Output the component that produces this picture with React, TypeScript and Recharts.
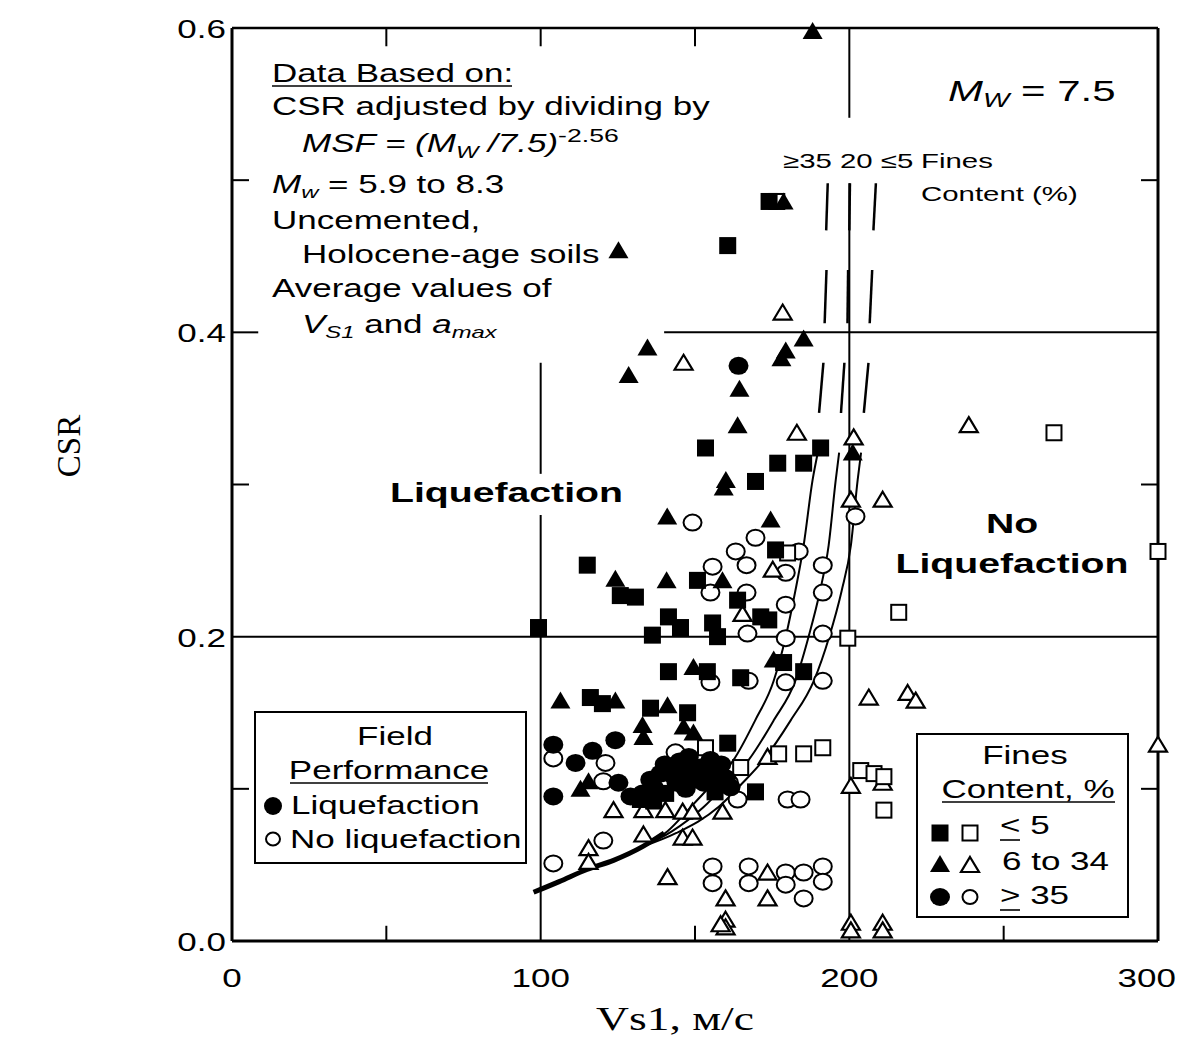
import React from "react";
import { ComposedChart, XAxis, YAxis, Scatter, Line, ReferenceLine } from "recharts";

// Vs1 (m/s), CSR pairs
const liqSquares = [
  [174, 0.486], [160.6, 0.457], [153.4, 0.324], [176.8, 0.314], [185.2, 0.314], [190.7, 0.324],
  [169.6, 0.302], [176.1, 0.257], [115.1, 0.247], [125.8, 0.227], [130.7, 0.226], [150.8, 0.237],
  [163.8, 0.224], [171.3, 0.213], [173.9, 0.211], [141.4, 0.213], [145.3, 0.206], [136.2, 0.201],
  [155.7, 0.209], [157.3, 0.2], [99.3, 0.206], [141.4, 0.177], [154, 0.177], [164.8, 0.173],
  [178.7, 0.183], [185.2, 0.177], [116.1, 0.16], [120, 0.156], [135.6, 0.153], [147.6, 0.15],
  [160.6, 0.13], [169.6, 0.098], [132.3, 0.093], [136.6, 0.092], [140.5, 0.097], [156.5, 0.098],
];
const noLiqSquares = [
  [176.5, 0.486], [180, 0.255], [199.5, 0.199], [216, 0.216], [266.3, 0.334], [300, 0.256],
  [153.4, 0.127], [164.8, 0.114], [177.1, 0.123], [185.2, 0.123], [191.4, 0.127], [203.7, 0.112],
  [208, 0.11], [211.2, 0.108], [211.2, 0.086],
];
const liqTriangles = [
  [188.1, 0.598], [178.7, 0.486], [125.2, 0.454], [185.2, 0.396], [134.6, 0.39], [128.5, 0.372],
  [164.4, 0.363], [179.4, 0.388], [178, 0.383], [163.8, 0.339], [201.1, 0.321], [159.3, 0.298],
  [160, 0.303], [141, 0.279], [174.5, 0.277], [124.2, 0.238], [140.8, 0.237], [158.9, 0.237],
  [149.5, 0.18], [175.5, 0.185], [106.4, 0.158], [124.2, 0.158], [141.1, 0.155], [133, 0.142],
  [133.3, 0.134], [146.3, 0.141], [149.5, 0.137], [112.9, 0.1], [115.5, 0.105],
];
const noLiqTriangles = [
  [178.4, 0.413], [146.3, 0.38], [183, 0.334], [201.4, 0.331], [200.5, 0.29], [210.8, 0.29],
  [175.2, 0.244], [165.4, 0.215], [238.7, 0.339], [206.3, 0.16], [218.9, 0.163], [221.5, 0.158],
  [200.5, 0.102], [210.8, 0.104], [300, 0.129], [200.5, 0.012], [200.5, 0.007], [210.8, 0.012],
  [210.8, 0.007], [173.5, 0.121], [158.9, 0.085], [123.6, 0.086], [133.3, 0.086], [140.4, 0.086],
  [146, 0.085], [149.2, 0.085], [133.3, 0.07], [146, 0.068], [149.2, 0.068], [115.5, 0.061],
  [115.5, 0.052], [141.1, 0.042], [173.5, 0.045], [159.9, 0.028], [173.5, 0.028], [159.9, 0.014],
  [159.9, 0.009], [158.3, 0.011],
];
const liqCircles = [
  [164.1, 0.378], [104.1, 0.129], [124.2, 0.132], [116.8, 0.125], [111.3, 0.117], [104.1, 0.095],
  [125.2, 0.104], [129.1, 0.095], [136.6, 0.101], [142, 0.11], [150.8, 0.112], [152.8, 0.104],
  [151.8, 0.114], [157.3, 0.11], [138.8, 0.11], [149.5, 0.106], [145, 0.118], [155, 0.119],
  [160, 0.107], [133, 0.097], [147.2, 0.113], [153.8, 0.11], [158.5, 0.116], [144, 0.104],
  [156.2, 0.103], [148, 0.121], [135.5, 0.106], [140.2, 0.116], [161.5, 0.101], [147, 0.1],
];
const noLiqCircles = [
  [202, 0.279], [149.2, 0.275], [169.6, 0.265], [163.2, 0.256], [183.6, 0.256], [166.7, 0.247],
  [155.7, 0.246], [179.4, 0.242], [191.4, 0.247], [155, 0.229], [166.7, 0.229], [191.4, 0.229],
  [179.4, 0.221], [167, 0.202], [179.4, 0.199], [191.4, 0.202], [155, 0.17], [167.4, 0.171],
  [179.4, 0.17], [191.4, 0.171], [104.1, 0.12], [121, 0.117], [143.7, 0.124], [120.3, 0.105],
  [161, 0.104], [163.8, 0.093], [180, 0.093], [184.2, 0.093], [120.3, 0.066], [104.1, 0.051],
  [155.7, 0.049], [155.7, 0.038], [167.4, 0.049], [167.4, 0.038], [179.4, 0.045], [179.4, 0.037],
  [185.2, 0.045], [191.4, 0.049], [191.4, 0.039], [185.2, 0.028],
];

// boundary curves (fines content >=35, 20, <=5)
const curveMerged = [[97.7, 0.032], [106, 0.039], [115, 0.047], [123.6, 0.053], [133, 0.062], [140, 0.071]];
const curveFC35 = [
  [133, 0.062], [141, 0.072], [148.6, 0.088], [155.5, 0.103], [162.5, 0.119], [169.5, 0.145],
  [175.5, 0.171], [179.4, 0.2], [182.5, 0.23], [185.2, 0.26], [188.1, 0.303], [189.8, 0.321],
];
const curveFC20 = [
  [133, 0.062], [142.5, 0.072], [152.8, 0.088], [160, 0.103], [167.4, 0.119], [175.5, 0.145],
  [182.5, 0.171], [186.8, 0.2], [190.5, 0.23], [193.3, 0.26], [195.6, 0.303], [196.7, 0.321],
];
const curveFC5 = [
  [133, 0.062], [144, 0.071], [157.6, 0.088], [165, 0.103], [172.2, 0.119], [181, 0.145],
  [188.5, 0.171], [193.5, 0.2], [197.5, 0.23], [200.5, 0.26], [202.7, 0.303], [203.8, 0.321],
];
const curveDashes = [
  [[193.0, 0.498], [192.5, 0.467]], [[200.2, 0.498], [200.0, 0.467]], [[208.6, 0.498], [207.8, 0.467]],
  [[192.6, 0.441], [192.0, 0.406]], [[199.6, 0.441], [199.4, 0.406]], [[207.4, 0.441], [206.6, 0.406]],
  [[191.6, 0.38], [190.2, 0.347]], [[198.4, 0.38], [197.3, 0.347]], [[206.2, 0.38], [204.7, 0.347]],
];

const xTicks = [0, 100, 200, 300];
const yTicks = [0, 0.2, 0.4, 0.6];

const SANS = "'Liberation Sans', Arial, Helvetica, sans-serif";
const SERIF = "'Liberation Serif', 'Times New Roman', serif";

const toPts = (a: number[][]) => a.map(([x, y]) => ({ x, y }));

function Marker({ cx, cy, kind, filled }: { cx: number; cy: number; kind: string; filled: boolean }) {
  if (kind === "square") {
    return filled ? (
      <rect x={cx - 8.5} y={cy - 8.5} width={17} height={17} fill="#000" />
    ) : (
      <rect x={cx - 7.5} y={cy - 7.5} width={15} height={15} fill="#fff" stroke="#000" strokeWidth={2} />
    );
  }
  if (kind === "triangle") {
    return filled ? (
      <polygon points={`${cx},${cy - 9} ${cx + 10},${cy + 8} ${cx - 10},${cy + 8}`} fill="#000" />
    ) : (
      <polygon
        points={`${cx},${cy - 8} ${cx + 9},${cy + 7} ${cx - 9},${cy + 7}`}
        fill="#fff"
        stroke="#000"
        strokeWidth={2.2}
      />
    );
  }
  return filled ? (
    <ellipse cx={cx} cy={cy} rx={10} ry={9} fill="#000" />
  ) : (
    <ellipse cx={cx} cy={cy} rx={9} ry={8} fill="#fff" stroke="#000" strokeWidth={2} />
  );
}

function T({ x, y, size = 25, weight, anchor = "start", sx = 1.4, family = SANS, children }: any) {
  return (
    <g transform={`translate(${x},${y}) scale(${sx},1)`}>
      <text x={0} y={0} fontSize={size} fontWeight={weight} textAnchor={anchor} fontFamily={family} fill="#000">
        {children}
      </text>
    </g>
  );
}

const YTick = (props: any) => (
  <g transform={`translate(226,${props.y + 10}) scale(1.4,1)`}>
    <text textAnchor="end" fontSize={25} fontFamily={SANS} fill="#000">
      {Number(props.payload.value).toFixed(1)}
    </text>
  </g>
);

const XTick = (props: any) => {
  const last = props.payload.value === 300;
  return (
    <g transform={`translate(${last ? 1176 : props.x},987) scale(1.4,1)`}>
      <text textAnchor={last ? "end" : "middle"} fontSize={25} fontFamily={SANS} fill="#000">
        {props.payload.value}
      </text>
    </g>
  );
};

const seg = (x1: number, y1: number, x2: number, y2: number, w = 2, key?: string) => (
  <ReferenceLine
    key={key}
    segment={[{ x: x1, y: y1 }, { x: x2, y: y2 }]}
    stroke="#000"
    strokeWidth={w}
    ifOverflow="visible"
  />
);

export default function App() {
  const series = [
    { data: noLiqCircles, kind: "circle", filled: false },
    { data: noLiqTriangles, kind: "triangle", filled: false },
    { data: noLiqSquares, kind: "square", filled: false },
    { data: liqCircles, kind: "circle", filled: true },
    { data: liqTriangles, kind: "triangle", filled: true },
    { data: liqSquares, kind: "square", filled: true },
  ];

  return (
    <div style={{ position: "absolute", left: 0, top: 0, width: 1177, height: 1041, background: "#fff" }}>
      <ComposedChart width={1177} height={1041} margin={{ top: 28, right: 19, bottom: 0, left: 0 }}>
        <XAxis
          type="number"
          dataKey="x"
          domain={[0, 300]}
          ticks={xTicks}
          height={100}
          tickLine={false}
          axisLine={{ stroke: "#000", strokeWidth: 3 }}
          tick={<XTick />}
        />
        <YAxis
          type="number"
          dataKey="y"
          domain={[0, 0.6]}
          ticks={yTicks}
          width={232}
          tickLine={false}
          axisLine={{ stroke: "#000", strokeWidth: 3 }}
          tick={<YTick />}
        />

        {/* frame and grid */}
        {seg(0, 0.6, 300, 0.6, 2.5)}
        {seg(300, 0, 300, 0.6, 3)}
        {seg(0, 0.2, 300, 0.2, 2)}
        {seg(140, 0.4, 300, 0.4, 2)}
        {seg(100, 0, 100, 0.28, 2)}
        {seg(100, 0.307, 100, 0.38, 2)}
        {seg(200, 0, 200, 0.498, 2)}
        {seg(200, 0.541, 200, 0.6, 2)}

        {/* inward ticks */}
        {[0.1, 0.3, 0.5].map((v) => seg(0, v, 5.5, v, 2, `yl${v}`))}
        {seg(0, 0.4, 8.5, 0.4, 2)}
        {[0.1, 0.3, 0.5].map((v) => seg(294.5, v, 300, v, 2, `yr${v}`))}
        {[50, 150, 250].map((v) => seg(v, 0, v, 0.01, 2, `xb${v}`))}
        {[50, 100, 150].map((v) => seg(v, 0.6, v, 0.588, 2, `xt${v}`))}

        {curveDashes.map((d, i) => seg(d[0][0], d[0][1], d[1][0], d[1][1], 2.5, `d${i}`))}

        <Line data={toPts(curveMerged)} dataKey="y" type="monotone" stroke="#000" strokeWidth={5} dot={false} isAnimationActive={false} />
        <Line data={toPts(curveFC35)} dataKey="y" type="monotone" stroke="#000" strokeWidth={2} dot={false} isAnimationActive={false} />
        <Line data={toPts(curveFC20)} dataKey="y" type="monotone" stroke="#000" strokeWidth={2} dot={false} isAnimationActive={false} />
        <Line data={toPts(curveFC5)} dataKey="y" type="monotone" stroke="#000" strokeWidth={2} dot={false} isAnimationActive={false} />

        {series.map((s, i) => (
          <Scatter
            key={i}
            data={toPts(s.data)}
            isAnimationActive={false}
            shape={(p: any) => <Marker cx={p.cx} cy={p.cy} kind={s.kind} filled={s.filled} />}
          />
        ))}
      </ComposedChart>

      <svg width={1177} height={1041} style={{ position: "absolute", left: 0, top: 0, pointerEvents: "none" }}>
        {/* notes block */}
        <T x={272} y={82}>Data Based on:</T>
        <line x1={272} y1={86} x2={512} y2={86} stroke="#000" strokeWidth={1.6} />
        <T x={272} y={115}>CSR adjusted by dividing by</T>
        <T x={302} y={152}>
          <tspan fontStyle="italic">MSF = (M</tspan>
          <tspan fontStyle="italic" fontSize={17} dy={6}>W</tspan>
          <tspan fontStyle="italic" dy={-6}> /7.5)</tspan>
          <tspan fontSize={19} dy={-10}>-2.56</tspan>
        </T>
        <T x={272} y={193}>
          <tspan fontStyle="italic">M</tspan>
          <tspan fontStyle="italic" fontSize={17} dy={5}>w</tspan>
          <tspan dy={-5}> = 5.9 to 8.3</tspan>
        </T>
        <T x={272} y={229}>Uncemented,</T>
        <T x={302} y={263}>Holocene-age soils</T>
        <T x={272} y={297}>Average values of</T>
        <T x={302} y={333}>
          <tspan fontStyle="italic">V</tspan>
          <tspan fontStyle="italic" fontSize={17} dy={5}>S1</tspan>
          <tspan dy={-5}> and </tspan>
          <tspan fontStyle="italic">a</tspan>
          <tspan fontStyle="italic" fontSize={17} dy={5}>max</tspan>
        </T>

        <T x={948} y={101} size={30}>
          <tspan fontStyle="italic">M</tspan>
          <tspan fontStyle="italic" fontSize={20} dy={6}>W</tspan>
          <tspan dy={-6}> = 7.5</tspan>
        </T>

        <T x={783} y={168} size={21}>≥35 20 ≤5</T>
        <T x={921} y={168} size={21}>Fines</T>
        <T x={921} y={201} size={21}>Content (%)</T>

        <T x={390} y={502} size={28} weight="bold">Liquefaction</T>
        <T x={1012} y={533} size={28} weight="bold" anchor="middle">No</T>
        <T x={1012} y={573} size={28} weight="bold" anchor="middle">Liquefaction</T>

        {/* field performance box */}
        <rect x={255} y={712} width={271} height={151} fill="#fff" stroke="#000" strokeWidth={2} />
        <T x={395} y={745} anchor="middle">Field</T>
        <T x={389} y={779} anchor="middle">Performance</T>
        <line x1={290} y1={783} x2={488} y2={783} stroke="#000" strokeWidth={1.6} />
        <ellipse cx={273} cy={806} rx={9} ry={9} fill="#000" />
        <T x={291} y={814}>Liquefaction</T>
        <ellipse cx={273} cy={839} rx={7} ry={6.5} fill="#fff" stroke="#000" strokeWidth={2} />
        <T x={290} y={848}>No liquefaction</T>

        {/* fines content box */}
        <rect x={917} y={734} width={211} height={183} fill="#fff" stroke="#000" strokeWidth={2} />
        <T x={1025} y={764} anchor="middle">Fines</T>
        <T x={1028} y={798} anchor="middle">Content, %</T>
        <line x1={942} y1={802} x2={1115} y2={802} stroke="#000" strokeWidth={1.6} />
        <Marker cx={940} cy={833} kind="square" filled />
        <Marker cx={970} cy={833} kind="square" filled={false} />
        <T x={1000} y={834}>{"< 5"}</T>
        <line x1={1000} y1={840} x2={1020} y2={840} stroke="#000" strokeWidth={1.6} />
        <Marker cx={940} cy={864} kind="triangle" filled />
        <Marker cx={970} cy={865} kind="triangle" filled={false} />
        <T x={1002} y={870}>6 to 34</T>
        <Marker cx={940} cy={897} kind="circle" filled />
        <ellipse cx={970} cy={897} rx={7.5} ry={7} fill="#fff" stroke="#000" strokeWidth={2} />
        <T x={1000} y={904}>{"> 35"}</T>
        <line x1={1000} y1={910} x2={1020} y2={910} stroke="#000" strokeWidth={1.6} />

        {/* axis titles */}
        <g transform="translate(80,446) rotate(-90)">
          <text textAnchor="middle" fontSize={33} fontFamily={SERIF} fill="#000">CSR</text>
        </g>
        <T x={675} y={1030} size={33} sx={1.38} family={SERIF} anchor="middle">Vs1, м/с</T>
      </svg>
    </div>
  );
}
